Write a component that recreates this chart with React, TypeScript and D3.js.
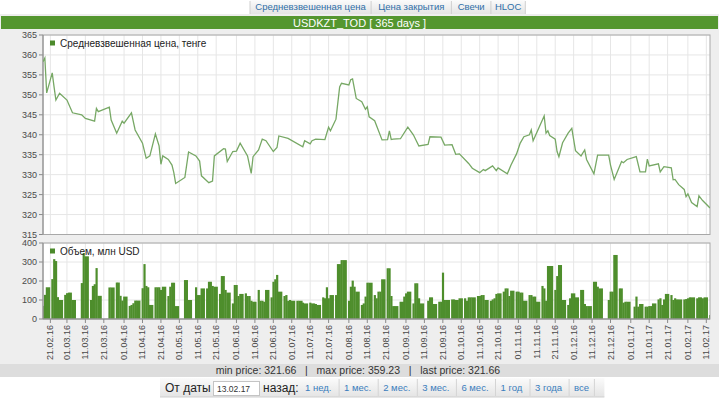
import React from "react";
import * as d3 from "d3";

// --- data ---
const tabs = ["Средневзвешенная цена", "Цена закрытия", "Свечи", "HLOC"];
const title = "USDKZT_TOD [ 365 days ]";
const priceLegend = "Средневзвешенная цена, тенге";
const volumeLegend = "Объем, млн USD";
const priceTicks = [315, 320, 325, 330, 335, 340, 345, 350, 355, 360, 365];
const volumeTicks = [0, 100, 200, 300, 400];
const dateDomain = ["17.02.16", "13.02.17"];
const dateTicks = [
  "21.02.16", "01.03.16", "11.03.16", "21.03.16", "01.04.16", "11.04.16", "21.04.16",
  "01.05.16", "11.05.16", "21.05.16", "01.06.16", "11.06.16", "21.06.16", "01.07.16",
  "11.07.16", "21.07.16", "01.08.16", "11.08.16", "21.08.16", "01.09.16", "11.09.16",
  "21.09.16", "01.10.16", "11.10.16", "21.10.16", "01.11.16", "11.11.16", "21.11.16",
  "01.12.16", "11.12.16", "21.12.16", "01.01.17", "11.01.17", "21.01.17", "01.02.17",
  "11.02.17",
];
const statLabels = ["min price: 321.66", "max price: 359.23", "last price: 321.66"];
const fromLabel = "От даты";
const fromDate = "13.02.17";
const backLabel = "назад:";
const periodLinks = ["1 нед.", "1 мес.", "2 мес.", "3 мес.", "6 мес.", "1 год", "3 года", "все"];

// weighted price, tenge (turning points of the line)
const price: [string, number][] = [
  ["17.02.16", 358.3], ["18.02.16", 359.23], ["19.02.16", 350.5], ["22.02.16", 355.5],
  ["23.02.16", 352.0], ["24.02.16", 348.7], ["26.02.16", 350.4], ["01.03.16", 348.7],
  ["04.03.16", 345.5], ["09.03.16", 345.0], ["11.03.16", 344.1], ["16.03.16", 343.4],
  ["17.03.16", 346.6], ["18.03.16", 345.8], ["24.03.16", 346.9], ["25.03.16", 343.7],
  ["28.03.16", 340.4], ["31.03.16", 343.4], ["01.04.16", 342.9], ["05.04.16", 345.5],
  ["07.04.16", 341.2], ["11.04.16", 337.9], ["13.04.16", 334.1], ["15.04.16", 334.7],
  ["18.04.16", 340.2], ["20.04.16", 337.2], ["21.04.16", 332.6], ["22.04.16", 334.7],
  ["25.04.16", 333.8], ["27.04.16", 332.4], ["28.04.16", 330.5], ["29.04.16", 327.8],
  ["04.05.16", 329.3], ["06.05.16", 335.7], ["10.05.16", 334.7], ["12.05.16", 333.4],
  ["13.05.16", 329.7], ["17.05.16", 328.0], ["19.05.16", 328.4], ["20.05.16", 334.7],
  ["25.05.16", 336.5], ["26.05.16", 336.4], ["27.05.16", 333.3], ["30.05.16", 335.8],
  ["01.06.16", 335.9], ["03.06.16", 337.9], ["07.06.16", 334.7], ["09.06.16", 330.3],
  ["10.06.16", 334.5], ["13.06.16", 336.2], ["15.06.16", 338.9], ["17.06.16", 338.5],
  ["21.06.16", 335.8], ["23.06.16", 336.8], ["24.06.16", 339.7], ["29.06.16", 339.1],
  ["07.07.16", 337.0], ["08.07.16", 338.5], ["11.07.16", 337.7], ["12.07.16", 338.5],
  ["14.07.16", 338.9], ["19.07.16", 338.8], ["21.07.16", 341.9], ["22.07.16", 341.0],
  ["25.07.16", 343.9], ["27.07.16", 352.0], ["28.07.16", 352.9], ["01.08.16", 352.5],
  ["02.08.16", 353.8], ["03.08.16", 354.0], ["05.08.16", 349.1], ["08.08.16", 348.3],
  ["10.08.16", 346.4], ["11.08.16", 347.0], ["12.08.16", 344.5], ["15.08.16", 343.5],
  ["19.08.16", 338.7], ["22.08.16", 338.8], ["23.08.16", 341.0], ["24.08.16", 338.8],
  ["25.08.16", 338.9], ["29.08.16", 339.0], ["02.09.16", 341.9], ["05.09.16", 340.0],
  ["08.09.16", 337.2], ["13.09.16", 337.6], ["14.09.16", 339.5], ["20.09.16", 339.4],
  ["22.09.16", 337.4], ["26.09.16", 337.5], ["28.09.16", 335.1], ["30.09.16", 335.2],
  ["05.10.16", 332.8], ["07.10.16", 331.6], ["11.10.16", 330.5], ["13.10.16", 331.3],
  ["14.10.16", 331.0], ["18.10.16", 332.2], ["20.10.16", 331.0], ["21.10.16", 331.7],
  ["26.10.16", 330.2], ["28.10.16", 332.4], ["31.10.16", 335.2], ["02.11.16", 337.9],
  ["04.11.16", 339.5], ["07.11.16", 340.0], ["08.11.16", 341.2], ["09.11.16", 338.5],
  ["15.11.16", 344.7], ["16.11.16", 340.4], ["17.11.16", 341.0], ["18.11.16", 339.8],
  ["21.11.16", 338.9], ["22.11.16", 335.8], ["23.11.16", 334.5], ["25.11.16", 338.0],
  ["28.11.16", 340.4], ["30.11.16", 341.6], ["02.12.16", 336.0], ["05.12.16", 334.7],
  ["07.12.16", 336.2], ["08.12.16", 333.8], ["12.12.16", 330.2], ["14.12.16", 334.9],
  ["20.12.16", 334.9], ["21.12.16", 332.4], ["23.12.16", 328.8], ["27.12.16", 333.3],
  ["28.12.16", 333.0], ["30.12.16", 333.8], ["04.01.17", 334.5], ["06.01.17", 330.7],
  ["09.01.17", 330.7], ["10.01.17", 333.9], ["11.01.17", 332.2], ["16.01.17", 332.7],
  ["17.01.17", 330.7], ["19.01.17", 332.0], ["23.01.17", 331.7], ["24.01.17", 328.7],
  ["25.01.17", 328.8], ["27.01.17", 327.5], ["30.01.17", 326.3], ["31.01.17", 324.5],
  ["01.02.17", 325.2], ["03.02.17", 323.0], ["06.02.17", 322.0], ["07.02.17", 324.7],
  ["09.02.17", 323.5], ["13.02.17", 321.66],
];

// daily volume, mln USD
const volume: [string, number][] = [
  ["17.02.16", 69], ["18.02.16", 127], ["19.02.16", 167], ["22.02.16", 210], ["23.02.16", 315],
  ["24.02.16", 305], ["25.02.16", 115], ["26.02.16", 100], ["29.02.16", 127],
  ["01.03.16", 136], ["02.03.16", 139], ["03.03.16", 139], ["04.03.16", 100], ["09.03.16", 189],
  ["10.03.16", 347], ["11.03.16", 330], ["14.03.16", 100], ["15.03.16", 174], ["16.03.16", 183],
  ["17.03.16", 268], ["18.03.16", 122], ["24.03.16", 166], ["25.03.16", 166], ["28.03.16", 192],
  ["29.03.16", 192], ["30.03.16", 122], ["31.03.16", 97],
  ["01.04.16", 118], ["04.04.16", 69], ["05.04.16", 74], ["06.04.16", 83], ["07.04.16", 97],
  ["08.04.16", 97], ["11.04.16", 162], ["12.04.16", 289], ["13.04.16", 174], ["14.04.16", 167],
  ["15.04.16", 74], ["18.04.16", 167], ["19.04.16", 167], ["20.04.16", 167], ["21.04.16", 153],
  ["22.04.16", 170], ["25.04.16", 121], ["26.04.16", 170], ["27.04.16", 191], ["28.04.16", 191],
  ["29.04.16", 68],
  ["04.05.16", 205], ["05.05.16", 205], ["06.05.16", 100], ["10.05.16", 167], ["11.05.16", 126],
  ["12.05.16", 126], ["13.05.16", 161], ["16.05.16", 161], ["17.05.16", 196], ["18.05.16", 196],
  ["19.05.16", 174], ["20.05.16", 170], ["23.05.16", 132], ["24.05.16", 226], ["25.05.16", 226],
  ["26.05.16", 153], ["27.05.16", 139], ["30.05.16", 82], ["31.05.16", 179],
  ["01.06.16", 179], ["02.06.16", 121], ["03.06.16", 132], ["06.06.16", 135], ["07.06.16", 121],
  ["08.06.16", 121], ["09.06.16", 96], ["10.06.16", 91], ["13.06.16", 153], ["14.06.16", 96],
  ["15.06.16", 96], ["16.06.16", 91], ["17.06.16", 153], ["20.06.16", 114], ["21.06.16", 196],
  ["22.06.16", 209], ["23.06.16", 232], ["24.06.16", 144], ["27.06.16", 121], ["28.06.16", 126],
  ["29.06.16", 96], ["30.06.16", 100],
  ["01.07.16", 96], ["04.07.16", 96], ["05.07.16", 96], ["07.07.16", 86], ["08.07.16", 82],
  ["11.07.16", 86], ["12.07.16", 82], ["13.07.16", 82], ["14.07.16", 79], ["15.07.16", 74],
  ["18.07.16", 114], ["19.07.16", 109], ["20.07.16", 167], ["21.07.16", 109], ["22.07.16", 126],
  ["25.07.16", 126], ["26.07.16", 289], ["27.07.16", 289], ["28.07.16", 310], ["29.07.16", 310],
  ["01.08.16", 96], ["02.08.16", 170], ["03.08.16", 202], ["04.08.16", 170], ["05.08.16", 144],
  ["08.08.16", 74], ["09.08.16", 82], ["10.08.16", 118], ["11.08.16", 191], ["12.08.16", 191],
  ["15.08.16", 126], ["16.08.16", 109], ["17.08.16", 144], ["18.08.16", 144], ["19.08.16", 209],
  ["22.08.16", 267], ["23.08.16", 267], ["24.08.16", 121], ["25.08.16", 68], ["26.08.16", 68],
  ["29.08.16", 91], ["31.08.16", 118],
  ["01.09.16", 135], ["02.09.16", 144], ["05.09.16", 82], ["06.09.16", 188], ["07.09.16", 188],
  ["08.09.16", 109], ["09.09.16", 82], ["13.09.16", 96], ["14.09.16", 114], ["15.09.16", 114],
  ["16.09.16", 79], ["19.09.16", 91], ["20.09.16", 91], ["21.09.16", 244], ["22.09.16", 100],
  ["23.09.16", 100], ["26.09.16", 103], ["27.09.16", 103], ["28.09.16", 100], ["29.09.16", 100],
  ["30.09.16", 109],
  ["03.10.16", 109], ["04.10.16", 96], ["05.10.16", 114], ["06.10.16", 114], ["07.10.16", 114],
  ["10.10.16", 121], ["11.10.16", 121], ["12.10.16", 126], ["13.10.16", 126], ["14.10.16", 100],
  ["17.10.16", 96], ["18.10.16", 103], ["19.10.16", 109], ["20.10.16", 132], ["21.10.16", 135],
  ["24.10.16", 144], ["25.10.16", 161], ["26.10.16", 161], ["27.10.16", 121], ["28.10.16", 149],
  ["31.10.16", 144],
  ["01.11.16", 144], ["02.11.16", 139], ["03.11.16", 139], ["04.11.16", 96], ["07.11.16", 126],
  ["08.11.16", 126], ["09.11.16", 118], ["10.11.16", 118], ["11.11.16", 91], ["14.11.16", 174],
  ["15.11.16", 161], ["16.11.16", 96], ["17.11.16", 279], ["18.11.16", 279], ["21.11.16", 153],
  ["22.11.16", 226], ["23.11.16", 284], ["24.11.16", 284], ["25.11.16", 100], ["28.11.16", 74],
  ["29.11.16", 109], ["30.11.16", 135],
  ["02.12.16", 114], ["05.12.16", 153], ["06.12.16", 153], ["07.12.16", 79], ["08.12.16", 68],
  ["09.12.16", 68], ["12.12.16", 196], ["13.12.16", 196], ["14.12.16", 170], ["15.12.16", 161],
  ["20.12.16", 100], ["21.12.16", 144], ["22.12.16", 144], ["23.12.16", 337], ["26.12.16", 161],
  ["27.12.16", 161], ["28.12.16", 86], ["29.12.16", 91], ["30.12.16", 91],
  ["03.01.17", 65], ["04.01.17", 118], ["05.01.17", 65], ["06.01.17", 79], ["09.01.17", 65],
  ["10.01.17", 65], ["11.01.17", 68], ["12.01.17", 68], ["13.01.17", 82], ["16.01.17", 103],
  ["17.01.17", 109], ["18.01.17", 74], ["19.01.17", 103], ["20.01.17", 132], ["23.01.17", 126],
  ["24.01.17", 100], ["25.01.17", 109], ["26.01.17", 103], ["27.01.17", 103], ["30.01.17", 103],
  ["31.01.17", 105],
  ["01.02.17", 109], ["02.02.17", 114], ["03.02.17", 114], ["06.02.17", 109], ["07.02.17", 114],
  ["08.02.17", 114], ["09.02.17", 109], ["10.02.17", 114], ["13.02.17", 21],
];

const W = 719;
const H = 399;
const FONT = "'Liberation Sans', Arial, sans-serif";
const parse = d3.timeParse("%d.%m.%y");

const plotLeft = 43;
const plotRight = 710;
const priceTop = 35;
const priceBottom = 234.5;
const volTop = 243;
const volBottom = 319;

export default function App() {
  const x = d3
    .scaleTime()
    .domain(dateDomain.map((s) => parse(s) as Date))
    .range([plotLeft, plotRight]);
  const yP = d3.scaleLinear().domain([315, 365]).range([priceBottom, priceTop]);
  const yV = d3.scaleLinear().domain([0, 400]).range([volBottom, volTop]);

  const dayPx = x(parse("18.02.16") as Date) - x(parse("17.02.16") as Date);

  const line = d3
    .line<[string, number]>()
    .x((d) => x(parse(d[0]) as Date))
    .y((d) => yP(d[1]));

  // bars: contiguous on consecutive days, thin gap before weekends/holidays
  const bars = volume.map((d, i) => {
    const xd = x(parse(d[0]) as Date);
    const next = volume[i + 1];
    const gap = next ? x(parse(next[0]) as Date) - xd : dayPx;
    const w = gap <= dayPx * 1.01 ? gap + 0.35 : dayPx * 2.4;
    return { x: xd - dayPx / 2, w, y: yV(d[1]), h: volBottom - yV(d[1]) };
  });

  // tab layout
  let tx = 250;
  const tabBoxes = tabs.map((t) => {
    const w = t.length * 5.1 + 14;
    const b = { t, x: tx, w };
    tx += w;
    return b;
  });

  let lx = 300;
  const linkBoxes = periodLinks.map((t) => {
    const w = t.length * 4.6 + 11.5;
    const b = { t, x: lx, w };
    lx += w;
    return b;
  });

  const grid = "#e6e6e6";
  const axisCol = "#8a8a8a";
  const labelCol = "#4a4a4a";

  return (
    <svg
      width={W}
      height={H}
      style={{ position: "absolute", left: 0, top: 0, display: "block" }}
      fontFamily={FONT}
    >
      <defs>
        <linearGradient id="tabg" x1="0" y1="0" x2="0" y2="1">
          <stop offset="0" stopColor="#fbfbfb" />
          <stop offset="1" stopColor="#e4e4e4" />
        </linearGradient>
        <clipPath id="volclip">
          <rect x={plotLeft} y={volTop} width={plotRight - plotLeft} height={volBottom - volTop} />
        </clipPath>
        <clipPath id="priceclip">
          <rect x={plotLeft} y={priceTop - 2} width={plotRight - plotLeft} height={priceBottom - priceTop + 4} />
        </clipPath>
      </defs>

      <rect x={0} y={0} width={W} height={H} fill="#ffffff" />

      {/* tabs */}
      <rect x={250} y={0} width={tx - 250} height={14} fill="url(#tabg)" />
      {tabBoxes.map((b, i) => (
        <g key={i}>
          <line x1={b.x + b.w} x2={b.x + b.w} y1={1} y2={14} stroke="#cfcfcf" />
          <text x={b.x + b.w / 2} y={10} fontSize={9.5} fill="#2f6fa8" textAnchor="middle">
            {b.t}
          </text>
        </g>
      ))}
      <line x1={250} x2={250} y1={1} y2={14} stroke="#cfcfcf" />

      {/* panel */}
      <rect x={0} y={14} width={W} height={350} fill="#eeeeee" />
      <rect x={1} y={16} width={W - 2} height={13} fill="#54962f" />
      <text x={W / 2} y={26.5} fontSize={11} fill="#ffffff" textAnchor="middle">
        {title}
      </text>

      {/* price plot */}
      <rect x={plotLeft} y={priceTop} width={plotRight - plotLeft} height={priceBottom - priceTop} fill="#ffffff" />
      {dateTicks.map((t, i) => (
        <line key={"gp" + i} x1={x(parse(t) as Date)} x2={x(parse(t) as Date)} y1={priceTop} y2={priceBottom} stroke={grid} />
      ))}
      {priceTicks.map((v, i) => (
        <g key={"pt" + i}>
          <line x1={plotLeft} x2={plotRight} y1={yP(v)} y2={yP(v)} stroke={grid} />
          <line x1={plotLeft - 4} x2={plotLeft} y1={yP(v)} y2={yP(v)} stroke={axisCol} />
          <text x={plotLeft - 6} y={yP(v) + 3} fontSize={9} fill={labelCol} textAnchor="end">
            {v}
          </text>
        </g>
      ))}
      <rect x={plotLeft} y={priceTop} width={plotRight - plotLeft} height={priceBottom - priceTop} fill="none" stroke="#a8a8a8" />
      <line x1={plotLeft} x2={plotLeft} y1={priceTop} y2={priceBottom} stroke={axisCol} />
      <path d={line(price) || ""} fill="none" stroke="#77a865" strokeWidth={1.3} clipPath="url(#priceclip)" />
      <rect x={50} y={40.5} width={5} height={5} fill="#4b8a2b" />
      <text x={60} y={46.5} fontSize={10} fill="#222">
        {priceLegend}
      </text>

      {/* volume plot */}
      <rect x={plotLeft} y={volTop} width={plotRight - plotLeft} height={volBottom - volTop} fill="#ffffff" />
      {dateTicks.map((t, i) => (
        <line key={"gv" + i} x1={x(parse(t) as Date)} x2={x(parse(t) as Date)} y1={volTop} y2={volBottom} stroke={grid} />
      ))}
      {volumeTicks.map((v, i) => (
        <g key={"vt" + i}>
          <line x1={plotLeft} x2={plotRight} y1={yV(v)} y2={yV(v)} stroke={grid} />
          <line x1={plotLeft - 4} x2={plotLeft} y1={yV(v)} y2={yV(v)} stroke={axisCol} />
          <text x={plotLeft - 6} y={yV(v) + 3} fontSize={9} fill={labelCol} textAnchor="end">
            {v}
          </text>
        </g>
      ))}
      <g clipPath="url(#volclip)">
        {bars.map((b, i) => (
          <rect key={i} x={b.x} y={b.y} width={b.w} height={b.h} fill="#4e8e2c" />
        ))}
      </g>
      <rect x={plotLeft} y={volTop} width={plotRight - plotLeft} height={volBottom - volTop} fill="none" stroke="#a8a8a8" />
      <line x1={plotLeft} x2={plotLeft} y1={volTop} y2={volBottom} stroke={axisCol} />
      <line x1={plotLeft} x2={plotRight} y1={volBottom} y2={volBottom} stroke={axisCol} />
      <rect x={50} y={248.5} width={5} height={5} fill="#4b8a2b" />
      <text x={60} y={254.5} fontSize={10} fill="#222">
        {volumeLegend}
      </text>

      {/* date axis */}
      {dateTicks.map((t, i) => {
        const px = x(parse(t) as Date);
        return (
          <g key={"xt" + i}>
            <line x1={px} x2={px} y1={volBottom} y2={volBottom + 4} stroke={axisCol} />
            <text
              transform={`translate(${px + 3},${volBottom + 6}) rotate(-90)`}
              fontSize={9}
              fill={labelCol}
              textAnchor="end"
            >
              {t}
            </text>
          </g>
        );
      })}

      {/* stats band */}
      <rect x={0} y={364} width={W} height={13} fill="#dddddd" />
      <text x={358} y={374} fontSize={10.5} fill="#333" textAnchor="middle" style={{ whiteSpace: "pre" }}>
        {statLabels.join("   |   ")}
      </text>

      {/* period selector */}
      <rect x={160} y={378} width={lx + 10 - 160} height={19} fill="url(#tabg)" />
      <line x1={160} x2={lx + 10} y1={397} y2={397} stroke="#cfcfcf" />
      <text x={165} y={392} fontSize={12} fill="#222">
        {fromLabel}
      </text>
      <rect x={213.5} y={381.5} width={46} height={14} fill="#ffffff" stroke="#c4c4c4" />
      <text x={217} y={391.5} fontSize={8.5} fill="#333">
        {fromDate}
      </text>
      <text x={263} y={392} fontSize={12} fill="#222">
        {backLabel}
      </text>
      {linkBoxes.map((b, i) => (
        <g key={"lk" + i}>
          <line x1={b.x + b.w} x2={b.x + b.w} y1={379} y2={396} stroke="#d4d4d4" />
          <text x={b.x + 5} y={391} fontSize={9.5} fill="#3a7dbd">
            {b.t}
          </text>
        </g>
      ))}
    </svg>
  );
}
